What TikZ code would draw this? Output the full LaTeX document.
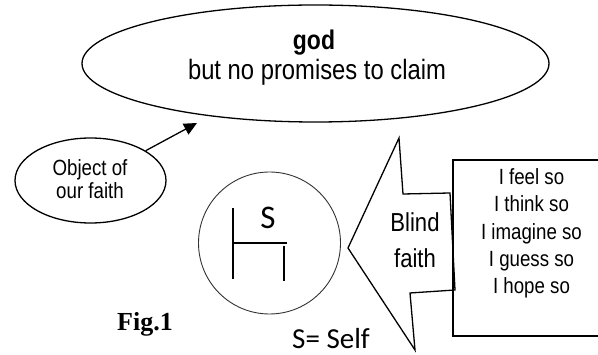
\documentclass[tikz,border=0pt]{standalone}
\usepackage{fontspec}
\setmainfont{Liberation Sans}[FakeStretch=0.85]
\newfontfamily\calib{Carlito}
\newfontfamily\timesf{Liberation Serif}
\usetikzlibrary{shapes.geometric,arrows.meta}
\tikzset{
  txt/.style={anchor=base, inner sep=0pt},
  oval/.style={draw, ellipse, line width=1.3pt, inner sep=0pt},
  thinline/.style={line width=1.2pt},
}
\begin{document}
\begin{tikzpicture}[x=1pt,y=-1pt]
\useasboundingbox (0,0) rectangle (598,355);
\clip (0,0) rectangle (598,355);
% big ellipse
\node[oval, minimum width=467pt, minimum height=117pt] (godE) at (315.5,63.5) {};
\node[txt] (godT) at (314,50) {\fontsize{27}{32}\selectfont\bfseries god};
\node[txt] (promT) at (317,80) {\fontsize{28}{33}\selectfont but no promises to claim};
% object ellipse
\node[oval, minimum width=151pt, minimum height=85pt] (objE) at (90.5,180.5) {};
\node[txt] (objT1) at (90,175.5) {\fontsize{22}{26}\selectfont Object of};
\node[txt] (objT2) at (90,198.5) {\fontsize{22}{26}\selectfont our faith};
\coordinate (tipC) at (197,123);
\draw[line width=1.3pt, -{Triangle[length=13pt,width=12pt]}] (objE) -- (tipC);
% self circle
\node[draw=black!80, circle, line width=0.9pt, minimum size=142pt, inner sep=0pt] (selfC) at (269.5,243) {};
\draw[thinline] (233,208) -- (233,279);
\draw[thinline] (233,243) -- (287,243);
\draw[thinline] (284,246) -- (284,281);
\node[txt] (sT) at (268,229) {\calib\fontsize{33}{38}\selectfont S};
\node[txt] (selfT) at (331,349) {\calib\fontsize{29}{34}\selectfont S= Self};
% callout
\draw[line width=1.3pt, line join=miter] (399,138) -- (403,194) -- (450,193) -- (455,290) -- (410,293) -- (415,350) -- (348,248) -- cycle;
\node[txt] (blindT1) at (415,232) {\fontsize{26}{30}\selectfont Blind};
\node[txt] (blindT2) at (415,267.5) {\fontsize{26}{30}\selectfont faith};
% list box
\node[draw, rectangle, line width=1.8pt, minimum width=170pt, minimum height=176pt, anchor=north west, inner sep=0pt] (listB) at (452,159) {};
\node[txt] (l1) at (531.5,185) {\fontsize{22}{26}\selectfont I feel so};
\node[txt] (l2) at (531.5,212) {\fontsize{22}{26}\selectfont I think so};
\node[txt] (l3) at (531.5,239.5) {\fontsize{22}{26}\selectfont I imagine so};
\node[txt] (l4) at (531.5,266.5) {\fontsize{22}{26}\selectfont I guess so};
\node[txt] (l5) at (531.5,293.7) {\fontsize{22}{26}\selectfont I hope so};
% caption
\node[txt] (figT) at (145,331) {\timesf\fontsize{26}{30}\selectfont\bfseries Fig.1};
\end{tikzpicture}
\end{document}
